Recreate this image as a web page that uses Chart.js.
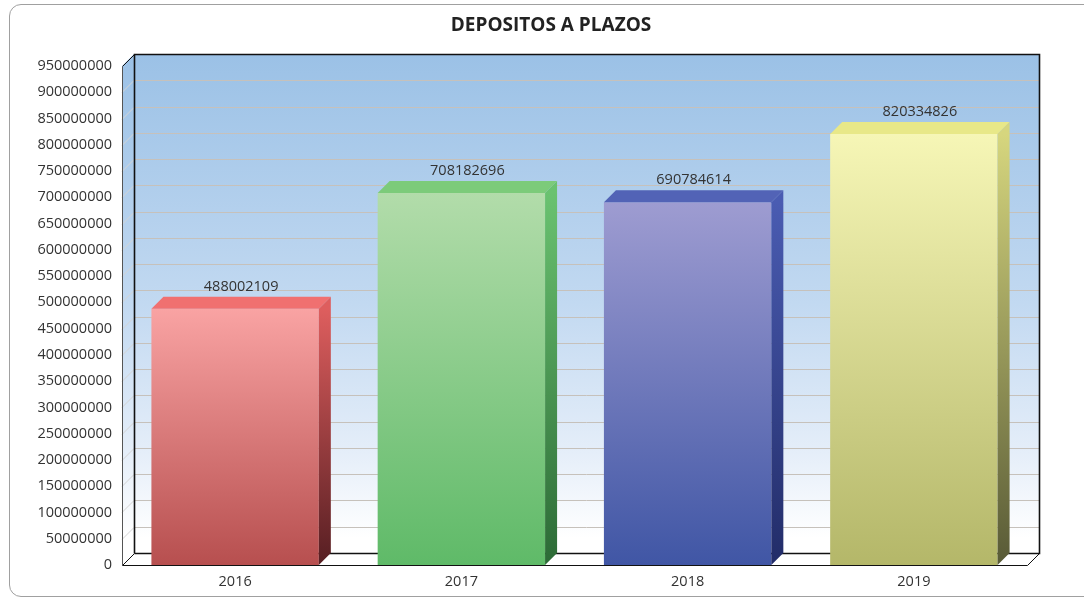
<!DOCTYPE html>
<html>
<head>
<meta charset="utf-8">
<title>DEPOSITOS A PLAZOS</title>
<script src="https://cdn.jsdelivr.net/npm/chart.js@4.4.0/dist/chart.umd.min.js"></script>
<style>
  html, body { margin: 0; padding: 0; background: #fff; overflow: hidden; }
  .card {
    position: absolute; left: 9px; top: 4px; width: 1100px; height: 593px;
    border: 1px solid #a0a0a0; border-radius: 12px; box-sizing: border-box;
  }
  .wrap { position: absolute; left: 0; top: 0; width: 1084px; height: 601px; }
</style>
</head>
<body>
<div class="card"></div>
<div class="wrap"><canvas id="chart"></canvas></div>
<script>
  const chartTitle = "DEPOSITOS A PLAZOS";
  const years = ["2016", "2017", "2018", "2019"];
  const deposits = [488002109, 708182696, 690784614, 820334826];
  const yMax = 950000000;
  const yStep = 50000000;

  // colour sets per bar: front top, front bottom, top face, side top, side bottom
  const frontTop = ["#f9a3a3", "#b2dcaa", "#9e9cd1", "#f6f6b6"];
  const frontBottom = ["#b74f4f", "#5fba68", "#4056a5", "#b4b769"];
  const topFace = ["#f07070", "#7ccb7a", "#5263b6", "#e8e888"];
  const sideTop = ["#de5e5e", "#6ac270", "#4a5cb2", "#d6d67e"];
  const sideBottom = ["#561e22", "#2c6a36", "#222c68", "#585a36"];

  const DEPTH = 12;
  const FONT = '"Open Sans", "DejaVu Sans", sans-serif';

  const threeD = {
    id: "threeD",
    beforeDatasetsDraw(chart) {
      const { ctx, chartArea: a, scales } = chart;
      const y = scales.y;
      const d = DEPTH;
      ctx.save();

      const g = ctx.createLinearGradient(0, a.top - d, 0, a.bottom - d);
      g.addColorStop(0, "rgb(155,193,230)");
      g.addColorStop(0.5, "rgb(194,217,241)");
      g.addColorStop(0.8, "rgb(229,238,249)");
      g.addColorStop(0.97, "#ffffff");

      // back wall
      ctx.fillStyle = g;
      ctx.fillRect(a.left + d, a.top - d, a.right - a.left, a.bottom - a.top);

      // left side wall
      ctx.beginPath();
      ctx.moveTo(a.left, a.top);
      ctx.lineTo(a.left + d, a.top - d);
      ctx.lineTo(a.left + d, a.bottom - d);
      ctx.lineTo(a.left, a.bottom);
      ctx.closePath();
      ctx.fill();

      // grid lines
      ctx.lineWidth = 1;
      for (let v = yStep; v < yMax; v += yStep) {
        const py = Math.round(y.getPixelForValue(v)) + 0.5;
        ctx.strokeStyle = "#c6c1bb";
        ctx.beginPath();
        ctx.moveTo(a.left + d, py - d);
        ctx.lineTo(a.right + d, py - d);
        ctx.stroke();
        ctx.strokeStyle = "#d4d4d4";
        ctx.beginPath();
        ctx.moveTo(a.left, py);
        ctx.lineTo(a.left + d, py - d);
        ctx.stroke();
      }

      // frame
      const L = Math.round(a.left) + 0.5, T = Math.round(a.top) + 0.5;
      const R = Math.round(a.right) + 0.5, B = Math.round(a.bottom) + 0.5;
      ctx.strokeStyle = "#111";
      ctx.lineWidth = 1.6;
      ctx.beginPath();
      ctx.moveTo(L + d, B - d);
      ctx.lineTo(L + d, T - d);
      ctx.lineTo(R + d, T - d);
      ctx.lineTo(R + d, B - d);
      ctx.lineTo(L + d, B - d);
      ctx.stroke();
      ctx.lineWidth = 1;
      ctx.beginPath();
      ctx.moveTo(L, T);
      ctx.lineTo(L + d, T - d);
      ctx.moveTo(L, B);
      ctx.lineTo(L + d, B - d);
      ctx.moveTo(R, B);
      ctx.lineTo(R + d, B - d);
      ctx.moveTo(L, B);
      ctx.lineTo(R, B);
      ctx.stroke();
      ctx.strokeStyle = "#555";
      ctx.beginPath();
      ctx.moveTo(L, T);
      ctx.lineTo(L, B);
      ctx.stroke();
      ctx.restore();
    },
    afterDatasetsDraw(chart) {
      const { ctx } = chart;
      const d = DEPTH;
      const meta = chart.getDatasetMeta(0);
      ctx.save();
      meta.data.forEach((bar, i) => {
        const x1 = bar.x - bar.width / 2;
        const x2 = bar.x + bar.width / 2;
        const top = bar.y;
        const base = bar.base;

        // top face
        ctx.fillStyle = topFace[i];
        ctx.beginPath();
        ctx.moveTo(x1, top);
        ctx.lineTo(x1 + d, top - d);
        ctx.lineTo(x2 + d, top - d);
        ctx.lineTo(x2, top);
        ctx.closePath();
        ctx.fill();

        // side face
        const sg = ctx.createLinearGradient(0, top, 0, base);
        sg.addColorStop(0, sideTop[i]);
        sg.addColorStop(1, sideBottom[i]);
        ctx.fillStyle = sg;
        ctx.beginPath();
        ctx.moveTo(x2, top);
        ctx.lineTo(x2 + d, top - d);
        ctx.lineTo(x2 + d, base - d);
        ctx.lineTo(x2, base);
        ctx.closePath();
        ctx.fill();

        // value label
        ctx.fillStyle = "#333";
        ctx.font = "14.5px " + FONT;
        ctx.textAlign = "center";
        ctx.textBaseline = "middle";
        ctx.fillText(String(deposits[i]), bar.x + d / 2, top - d - 10);
      });
      ctx.restore();
    },
    afterDraw(chart) {
      const { ctx, width } = chart;
      ctx.save();
      ctx.fillStyle = "#222";
      ctx.font = "bold 19px " + FONT;
      ctx.textAlign = "center";
      ctx.textBaseline = "middle";
      ctx.fillText(chartTitle, (width + 18) / 2, 26);
      ctx.restore();
    },
  };

  new Chart(document.getElementById("chart"), {
    type: "bar",
    data: {
      labels: years,
      datasets: [{
        label: chartTitle,
        data: deposits,
        borderWidth: 0,
        categoryPercentage: 1,
        barPercentage: 0.74,
        backgroundColor: (c) => {
          const chart = c.chart;
          const area = chart.chartArea;
          if (!area || !chart.scales.y) return frontBottom[c.dataIndex];
          const topY = chart.scales.y.getPixelForValue(c.raw);
          const g = chart.ctx.createLinearGradient(0, topY, 0, area.bottom);
          g.addColorStop(0, frontTop[c.dataIndex]);
          g.addColorStop(1, frontBottom[c.dataIndex]);
          return g;
        },
      }],
    },
    options: {
      responsive: true,
      maintainAspectRatio: false,
      animation: false,
      layout: { padding: { left: 0, right: 57, top: 66, bottom: 0 } },
      plugins: {
        legend: { display: false },
        tooltip: { enabled: false },
        title: { display: false },
      },
      scales: {
        x: {
          grid: { display: false, drawTicks: false },
          border: { display: false },
          ticks: { color: "#333", padding: 8, font: { family: FONT, size: 14.5 } },
          afterFit: (s) => { s.height = 36; },
        },
        y: {
          min: 0,
          max: yMax,
          grid: { display: false, drawTicks: false },
          border: { display: false },
          ticks: {
            stepSize: yStep,
            autoSkip: false,
            color: "#333",
            padding: 10,
            font: { family: FONT, size: 14.5 },
            callback: (v) => String(v),
          },
          afterFit: (s) => { s.width = 122; },
        },
      },
    },
    plugins: [threeD],
  });
</script>
</body>
</html>
